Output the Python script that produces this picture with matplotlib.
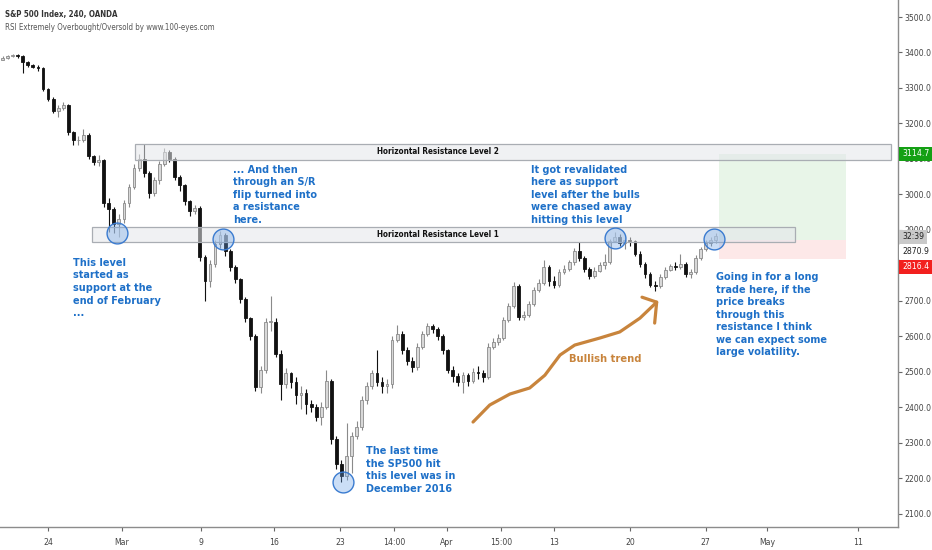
import matplotlib
matplotlib.use("Agg")
import matplotlib.pyplot as plt
import matplotlib.transforms as mtrans
from matplotlib.patches import Rectangle
from matplotlib import font_manager as fm
from matplotlib.font_manager import FontProperties
import numpy as np

# ---------------- data (8-hour candles) ----------------
first_open = 3380
closes = [3385, 3390, 3393, 3390, 3372, 3364, 3360, 3356, 3298, 3270,
          3236, 3244, 3252, 3175, 3152, 3152, 3168, 3108, 3092, 3096,
          2975, 2958, 2915, 2930, 2975, 3020, 3075, 3100, 3060, 3005,
          3040, 3085, 3120, 3100, 3050, 3025, 2980, 2952, 2962, 2822,
          2755, 2805, 2860, 2885, 2840, 2795, 2760, 2705, 2650, 2600,
          2458, 2505, 2640, 2640, 2550, 2465, 2495, 2470, 2435, 2440,
          2410, 2400, 2372, 2400, 2475, 2310, 2240, 2205, 2262, 2320,
          2345, 2420, 2460, 2495, 2470, 2460, 2465, 2590, 2605, 2560,
          2530, 2512, 2570, 2605, 2630, 2620, 2600, 2560, 2505, 2488,
          2470, 2490, 2475, 2500, 2495, 2485, 2570, 2585, 2595, 2645,
          2685, 2742, 2655, 2660, 2690, 2730, 2750, 2795, 2755, 2745,
          2780, 2790, 2808, 2840, 2820, 2790, 2770, 2785, 2800, 2808,
          2868, 2880, 2862, 2872, 2868, 2832, 2805, 2775, 2745, 2742,
          2768, 2788, 2798, 2795, 2805, 2775, 2780, 2820, 2845, 2862,
          2870, 2882]
highs = [3390, 3394, 3397, 3396, 3392, 3376, 3368, 3364, 3358, 3300,
         3275, 3252, 3260, 3256, 3180, 3165, 3185, 3172, 3112, 3110,
         3100, 2990, 2965, 2945, 2985, 3030, 3085, 3115, 3142, 3065,
         3050, 3095, 3132, 3125, 3105, 3055, 3030, 2985, 2970, 2966,
         2830, 2815, 2870, 2898, 2892, 2845, 2800, 2765, 2710, 2655,
         2605, 2515, 2650, 2712, 2650, 2560, 2510, 2500, 2485, 2460,
         2450, 2420, 2410, 2415, 2504, 2480, 2320, 2250, 2356, 2330,
         2360, 2430, 2470, 2505, 2560, 2485, 2480, 2600, 2632, 2615,
         2570, 2540, 2580, 2615, 2637, 2635, 2625, 2605, 2565, 2515,
         2495, 2500, 2495, 2510, 2515, 2505, 2580, 2595, 2605, 2655,
         2695, 2752, 2748, 2672, 2700, 2740, 2760, 2814, 2800, 2770,
         2790, 2800, 2815, 2850, 2865, 2825, 2795, 2795, 2810, 2833,
         2875, 2895, 2888, 2885, 2880, 2872, 2840, 2810, 2780, 2755,
         2775, 2795, 2805, 2808, 2833, 2808, 2790, 2828, 2852, 2870,
         2880, 2890]
lows = [3378, 3383, 3387, 3385, 3343, 3358, 3355, 3348, 3290, 3262,
        3228, 3218, 3238, 3168, 3140, 3138, 3148, 3100, 3082, 3080,
        2965, 2895, 2890, 2880, 2920, 2965, 3015, 3065, 3050, 2990,
        2995, 3030, 3080, 3090, 3040, 3010, 2970, 2940, 2945, 2812,
        2700, 2740, 2795, 2850, 2825, 2785, 2750, 2695, 2640, 2590,
        2445, 2440, 2495, 2615, 2540, 2420, 2455, 2455, 2410, 2395,
        2380, 2385, 2360, 2350, 2395, 2295, 2225, 2190, 2195, 2215,
        2310, 2335, 2410, 2450, 2460, 2440, 2440, 2455, 2585, 2550,
        2520, 2500, 2505, 2565, 2600, 2610, 2590, 2550, 2495, 2470,
        2460, 2440, 2460, 2468, 2480, 2470, 2480, 2565, 2575, 2590,
        2640, 2680, 2645, 2645, 2655, 2685, 2725, 2745, 2742, 2735,
        2740, 2775, 2785, 2800, 2812, 2780, 2762, 2765, 2780, 2790,
        2805, 2865, 2855, 2845, 2855, 2825, 2795, 2765, 2738, 2728,
        2735, 2762, 2785, 2788, 2790, 2768, 2765, 2775, 2815, 2840,
        2855, 2862]

date_tick_pos = [9.0, 23.6, 39.2, 53.6, 66.7, 77.4, 87.8, 98.5, 109.0, 124.0, 139.0, 151.1, 169.1]
date_tick_labels = ["24", "Mar", "9", "16", "23", "14:00", "Apr", "15:00", "13", "20", "27", "May", "11"]
price_ticks = [2100, 2200, 2300, 2400, 2500, 2600, 2700, 2800, 2900, 3000, 3100, 3200, 3300, 3400, 3500]
price_tick_labels = ["2100.0", "2200.0", "2300.0", "2400.0", "2500.0", "2600.0", "2700.0", "",
                     "2900.0", "3000.0", "3100.0", "3200.0", "3300.0", "3400.0", "3500.0"]

level1 = (17.7, 156.6, 2866, 2907)     # x0, x1, low, high
level2 = (26.2, 175.6, 3097, 3142)
pos_x = (141.6, 166.7)
pos_entry, pos_target, pos_stop = 2870.9, 3114.7, 2816.4

circle_x = [22.6, 43.6, 67.3, 121.0, 140.6]
circle_y = [2891, 2874, 2189, 2878, 2874]

arrow_x = [93.0, 96.3, 100.3, 104.2, 107.2, 110.2, 113.1, 118.1, 122.0, 126.0, 129.3]
arrow_y = [2358, 2406, 2437, 2454, 2490, 2547, 2575, 2595, 2612, 2651, 2696]
arrow_head_x = [126.4, 129.3, 128.9]
arrow_head_y = [2710, 2696, 2637]

notes = [
    (13.9, 2821, "This level\nstarted as\nsupport at the\nend of February\n..."),
    (45.5, 3084, "... And then\nthrough an S/R\nflip turned into\na resistance\nhere."),
    (71.8, 2290, "The last time\nthe SP500 hit\nthis level was in\nDecember 2016"),
    (104.4, 3084, "It got revalidated\nhere as support\nlevel after the bulls\nwere chased away\nhitting this level"),
    (141.0, 2781, "Going in for a long\ntrade here, if the\nprice breaks\nthrough this\nresistance I think\nwe can expect some\nlarge volatility."),
]

# ---------------- fonts: look for a narrow face ----------------
def find_narrow(bold):
    for f in fm.fontManager.ttflist:
        nm = f.name
        st = f.stretch
        narrowish = ("Narrow" in nm) or ("Condensed" in nm) or \
            (isinstance(st, str) and "condensed" in st) or \
            (isinstance(st, (int, float)) and st < 500)
        if not narrowish or f.style != "normal":
            continue
        w = f.weight
        isbold = (isinstance(w, str) and w in ("bold", "semibold", "demibold", "heavy", "black")) or \
                 (isinstance(w, (int, float)) and w >= 600)
        if isbold == bold:
            return FontProperties(fname=f.fname)
    return None

fp_reg = find_narrow(False)
fp_bold = find_narrow(True)
narrow_found = fp_reg is not None
if fp_reg is None:
    fp_reg = FontProperties(family="Liberation Sans")
if fp_bold is None:
    fp_bold = FontProperties(family="Liberation Sans", weight="bold")

def fp(base, size):
    p = base.copy()
    p.set_size(size)
    return p

AX_SIZE = 6.2 if narrow_found else 5.8
HDR_SIZE = 5.7 if narrow_found else 5.2
BOX_SIZE = 5.9 if narrow_found else 5.2

# ---------------- figure ----------------
fig = plt.figure(figsize=(9.32, 5.5), dpi=100)
fig.patch.set_facecolor("white")
ax = fig.add_axes([0, 23 / 550, 898 / 932, 527 / 550])
ax.set_facecolor("white")
ax.set_xlim(-0.5, 177.0)
ax.set_ylim(2062, 3548)

c = np.array(closes, float)
h = np.array(highs, float)
l = np.array(lows, float)
o = np.r_[first_open, c[:-1]]
x = np.arange(len(c))
up = c >= o

UPC, UPF, DNC = "#8a8a8a", "#d8d8d8", "#111111"
ax.vlines(x[up], l[up], h[up], color=UPC, lw=0.8, zorder=2)
ax.vlines(x[~up], l[~up], h[~up], color=DNC, lw=0.8, zorder=2)
body = np.maximum(np.abs(c - o), 2.5)
bot = np.minimum(o, c)
ax.bar(x[up], body[up], bottom=bot[up], width=0.55, color=UPF, edgecolor=UPC, linewidth=0.6, zorder=3)
ax.bar(x[~up], body[~up], bottom=bot[~up], width=0.55, color=DNC, edgecolor=DNC, linewidth=0.6, zorder=3)

# position tool
ax.add_patch(Rectangle((pos_x[0], pos_entry), pos_x[1] - pos_x[0], pos_target - pos_entry,
                       fc="#e6f4e6", ec="none", alpha=0.9, zorder=1))
ax.add_patch(Rectangle((pos_x[0], pos_stop), pos_x[1] - pos_x[0], pos_entry - pos_stop,
                       fc="#fde6e6", ec="none", alpha=0.9, zorder=1))

# resistance zones
for (x0, x1, lo, hi), lab in [(level1, "Horizontal Resistance Level 1"),
                              (level2, "Horizontal Resistance Level 2")]:
    ax.add_patch(Rectangle((x0, lo), x1 - x0, hi - lo, fc="#e4e6ea", ec="none",
                           alpha=0.55, zorder=4))
    ax.add_patch(Rectangle((x0, lo), x1 - x0, hi - lo, fc="none", ec="#a9adb3",
                           lw=0.9, zorder=4))
    ax.text(86.0, (lo + hi) / 2, lab, ha="center", va="center",
            fontproperties=fp(fp_bold, BOX_SIZE), color="#111111", zorder=5)

# circles
ax.plot(circle_x, circle_y, "o", ms=15, mfc=(0.42, 0.64, 0.90, 0.35), mec="#3a7bd0",
        mew=1.0, zorder=6, linestyle="none")

# bullish arrow
ORANGE = "#c8843c"
ax.plot(arrow_x, arrow_y, color=ORANGE, lw=2.3, solid_capstyle="round",
        solid_joinstyle="round", zorder=6)
ax.plot(arrow_head_x, arrow_head_y, color=ORANGE, lw=2.3, solid_capstyle="round",
        solid_joinstyle="round", zorder=6)
ax.text(112.0, 2535, "Bullish trend", ha="left", va="center", fontsize=7.2,
        fontweight="bold", color=ORANGE, family="DejaVu Sans", zorder=6)

# notes
BLUE = "#1e70c8"
for nx, ny, txt in notes:
    ax.text(nx, ny, txt, ha="left", va="top", fontsize=7, fontweight="bold",
            color=BLUE, family="DejaVu Sans", linespacing=1.32, zorder=7)

# axes styling
for s in ("top", "left"):
    ax.spines[s].set_visible(False)
for s in ("right", "bottom"):
    ax.spines[s].set_color("#8c8c8c")
    ax.spines[s].set_linewidth(1.0)

ax.yaxis.tick_right()
ax.set_yticks(price_ticks)
ax.set_yticklabels(price_tick_labels)
ax.tick_params(axis="y", direction="out", length=3, color="#666666",
               labelcolor="#444444", pad=1.5)
ax.set_xticks(date_tick_pos)
ax.set_xticklabels(date_tick_labels)
ax.tick_params(axis="x", direction="out", length=3, color="#666666",
               labelcolor="#444444", pad=5)
for lab in ax.get_yticklabels() + ax.get_xticklabels():
    lab.set_fontproperties(fp(fp_reg, AX_SIZE))

# price labels on the right axis
tr = mtrans.blended_transform_factory(ax.transAxes, ax.transData)
def axis_label(price, text, fc, tc):
    ax.text(1.0 + 4 / 898, price, text, transform=tr, ha="left", va="center",
            fontproperties=fp(fp_reg, AX_SIZE), color=tc, clip_on=False, zorder=10,
            bbox=dict(boxstyle="square,pad=0.3", fc=fc, ec="none"))

axis_label(pos_target, "3114.7", "#14a014", "white")
axis_label(2880, "32:39", "#c9c9c9", "#222222")
axis_label(2838, "2870.9", "white", "#222222")
axis_label(2796, "2816.4", "#f2201e", "white")

# header
fig.text(5 / 932, 1 - 14 / 550, "S&P 500 Index, 240, OANDA", ha="left", va="center",
         fontproperties=fp(fp_bold, HDR_SIZE), color="#333333")
fig.text(5 / 932, 1 - 27 / 550, "RSI Extremely Overbought/Oversold by www.100-eyes.com",
         ha="left", va="center", fontproperties=fp(fp_reg, HDR_SIZE), color="#555555")

fig.savefig("out.png", dpi=100)
